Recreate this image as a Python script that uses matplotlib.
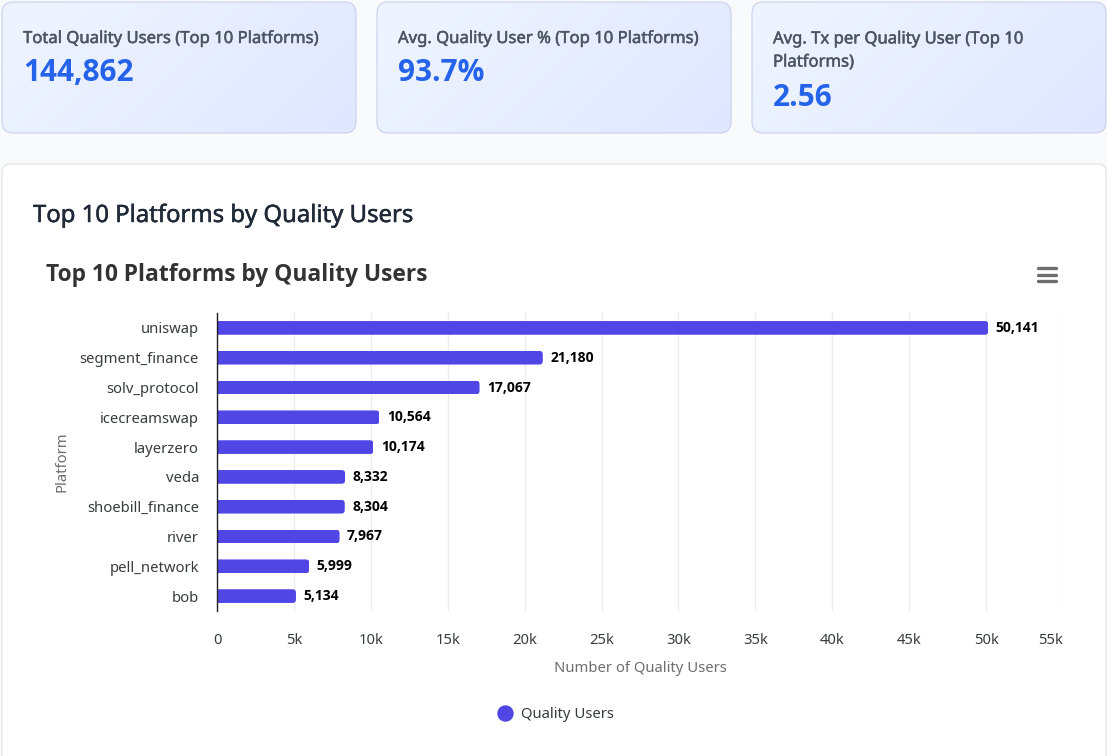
import numpy as np
import matplotlib
matplotlib.use("Agg")
import matplotlib.pyplot as plt
import matplotlib.patheffects as pe
from matplotlib.lines import Line2D
from matplotlib.patches import FancyBboxPatch
from matplotlib.transforms import IdentityTransform

platforms = ["uniswap", "segment_finance", "solv_protocol", "icecreamswap", "layerzero",
             "veda", "shoebill_finance", "river", "pell_network", "bob"]
quality_users = [50141, 21180, 17067, 10564, 10174, 8332, 8304, 7967, 5999, 5134]
x_ticks = [0, 5000, 10000, 15000, 20000, 25000, 30000, 35000, 40000, 45000, 50000, 55000]
x_tick_labels = ["0", "5k", "10k", "15k", "20k", "25k", "30k", "35k", "40k", "45k", "50k", "55k"]

card_labels = ["Total Quality Users (Top 10 Platforms)",
               "Avg. Quality User % (Top 10 Platforms)",
               "Avg. Tx per Quality User (Top 10\nPlatforms)"]
card_values = ["144,862", "93.7%", "2.56"]
card_lefts = [2, 377, 752]
card_label_y = [39, 39, 51]
card_value_y = [73, 73, 98]

W, H = 1107, 756
INDIGO = "#4f46e5"
plt.rcParams["font.family"] = ["Noto Sans", "Open Sans", "DejaVu Sans"]
BOLD_FONT = ["Open Sans", "DejaVu Sans"]


# thin outline to get a medium weight, no such cut is installed
def medium(color):
    return [pe.withStroke(linewidth=0.35, foreground=color)]


fig = plt.figure(figsize=(W / 100, H / 100), dpi=100, facecolor="#f9fafb")

# page layer, in pixels from the top left
bg = fig.add_axes([0, 0, 1, 1])
bg.axis("off")

# diagonal gradient shared by the cards
nx, ny = 354, 131
gx, gy = np.meshgrid(np.linspace(0, 1, nx), np.linspace(0, 1, ny))
t = (gx * nx + gy * ny) / (nx + ny)
c0 = np.array([0xef, 0xf5, 0xff]) / 255
c1 = np.array([0xe0, 0xe7, 0xff]) / 255
grad = c0 + (c1 - c0) * t[..., None]

for left, label, value, ly, vy in zip(card_lefts, card_labels, card_values, card_label_y, card_value_y):
    box = FancyBboxPatch((left, 2), nx, ny, boxstyle="round,pad=0,rounding_size=11",
                         fc="none", ec="#c9d0ee", lw=0.8, zorder=3)
    bg.add_patch(box)
    im = bg.imshow(grad, extent=(left, left + nx, 2 + ny, 2), aspect="auto", zorder=2)
    im.set_clip_path(box)
    bg.text(left + 21, ly, label, fontsize=12, color="#4b5563", va="center", linespacing=1.6,
            path_effects=medium("#4b5563"), zorder=4)
    bg.text(left + 21, vy, value, fontsize=21.4, color="#2563eb", va="center", fontweight="bold",
            family=BOLD_FONT, zorder=4)

bg.set_xlim(0, W)
bg.set_ylim(H, 0)

panel = FancyBboxPatch((2, 164), 1104, 640, boxstyle="round,pad=0,rounding_size=8",
                       fc="white", ec="#e5e7eb", lw=1, zorder=1)
bg.add_patch(panel)
bg.text(33, 216, "Top 10 Platforms by Quality Users", fontsize=17.2, color="#1f2937",
        va="center", path_effects=medium("#1f2937"), zorder=4)
bg.text(46, 275, "Top 10 Platforms by Quality Users", fontsize=16.35, color="#333333",
        va="center", fontweight="bold", family=BOLD_FONT, zorder=4)

# menu icon
for my in [268, 274.5, 281]:
    bg.plot([1038, 1056], [my, my], color="#6e6e6e", lw=2.4, solid_capstyle="round", zorder=4)

# chart
ax = fig.add_axes([217 / W, 1 - 611 / H, 846 / W, 298 / H])
ax.patch.set_alpha(0)
y = np.arange(len(platforms))
bars = ax.barh(y, quality_users, height=0.46, color=INDIGO, zorder=3)
ax.set_xlim(0, 55000)
ax.set_ylim(len(platforms) - 0.5, -0.5)

# round the free end of each bar
fig.canvas.draw()
for bar in bars:
    ext = bar.get_window_extent()
    clip = FancyBboxPatch((ext.x0 - 10, ext.y0), ext.width + 10, ext.height,
                          boxstyle="round,pad=0,rounding_size=3.5", transform=IdentityTransform())
    bar.set_clip_path(clip)

for yi, v in zip(y, quality_users):
    ax.annotate(f"{v:,}", (v, yi), xytext=(7.5, 0), textcoords="offset pixels", va="center", ha="left",
                fontsize=10, fontweight="bold", family=BOLD_FONT, color="black", zorder=4)

ax.set_xticks(x_ticks)
ax.set_xticklabels(x_tick_labels)
ax.get_xticklabels()[-1].set_ha("right")
ax.set_yticks(y)
ax.set_yticklabels(platforms)
ax.tick_params(axis="x", length=0, pad=16, labelsize=10.7, labelcolor="#373d3f")
ax.tick_params(axis="y", length=0, pad=13, labelsize=10.7, labelcolor="#373d3f")
ax.grid(axis="x", color="#ececec", lw=1, zorder=0)
ax.grid(axis="y", visible=False)
ax.set_axisbelow(True)
for side in ["top", "right", "bottom"]:
    ax.spines[side].set_visible(False)
ax.spines["left"].set_color("#222222")
ax.spines["left"].set_linewidth(1)
ax.spines["left"].set_zorder(5)

ax.set_xlabel("Number of Quality Users", fontsize=10.7, color="#6e6e6e", labelpad=9)
ax.set_ylabel("Platform", fontsize=10.7, color="#6e6e6e", labelpad=7.5)

handle = Line2D([], [], linestyle="none", marker="o", markersize=10.8, color=INDIGO)
ax.legend([handle], ["Quality Users"], loc="center", bbox_to_anchor=(552 / W, 1 - 715 / H),
          bbox_transform=fig.transFigure, frameon=False, fontsize=10.7, labelcolor="#373d3f",
          handletextpad=0.1, borderpad=0)

fig.savefig("out.png", dpi=100, facecolor=fig.get_facecolor())
